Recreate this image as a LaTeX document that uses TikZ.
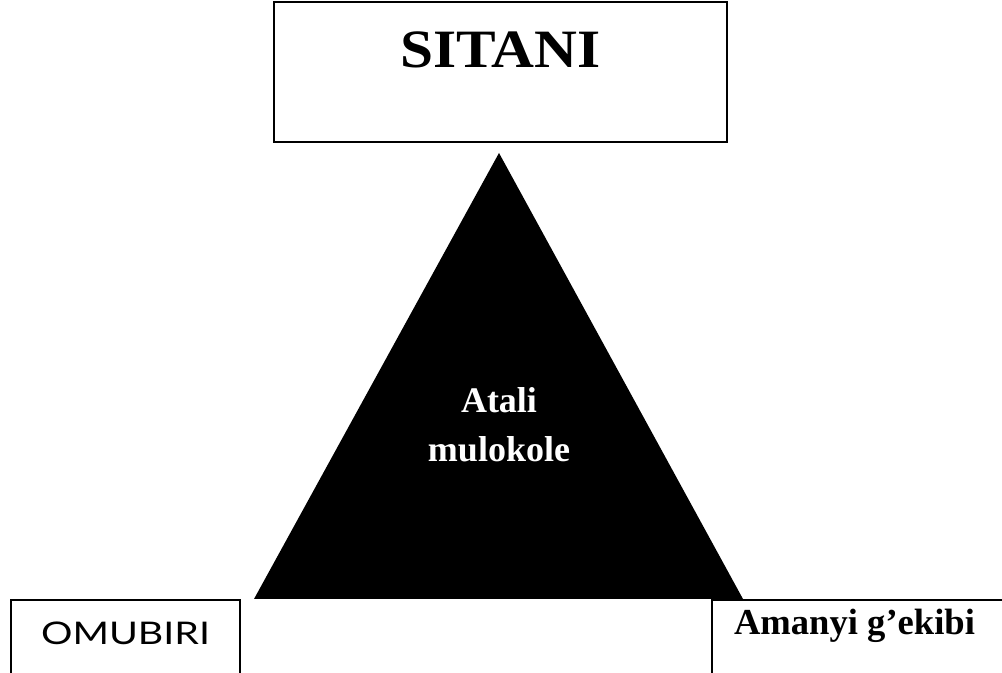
\documentclass[tikz,border=0pt]{standalone}
\usepackage{fontspec}
\setmainfont{Liberation Serif}
\newfontfamily\omufont{Lato}
\usetikzlibrary{positioning}

\begin{document}
\begin{tikzpicture}[
  x=0.5pt, y=-0.5pt,
  box/.style={rectangle, draw, line width=1pt, inner sep=0pt},
  toptext/.style={font=\fontsize{27}{30}\selectfont\bfseries},
  midtext/.style={text=white, align=center, font=\fontsize{18}{24.5}\selectfont\bfseries},
  lefttext/.style={font=\fontsize{15.6}{18}\selectfont\omufont, anchor=base},
  righttext/.style={font=\fontsize{18.3}{20}\selectfont\bfseries, anchor=base}
  ]

\useasboundingbox (0,0) rectangle (1002,673);
\clip (0,0) rectangle (1002,673);

% Boxes
\node[box, minimum width=226.5pt, minimum height=70pt] (sitanibox) at (500.5,72) {};
\node[box, minimum width=114.5pt, minimum height=60pt] (omubiribox) at (125.5,660) {};
\node[box, minimum width=154pt, minimum height=60pt] (amanyibox) at (866,660) {};

% Triangle
\coordinate (apex) at (499,153);
\coordinate (baseL) at (254,599);
\coordinate (baseR) at (743,599);
\fill (apex) -- (baseL) -- (baseR) -- cycle;

% Labels
\node[toptext] (sitani) at (500.5,50) {\scalebox{1.1}[1]{SITANI}};
\node[midtext] (atali) at (499,425) {Atali\\mulokole};
\node[lefttext] (omubiri) at (125.5,645) {\scalebox{1.26}[1]{OMUBIRI}};
\node[righttext] (amanyi) at (854.5,634) {Amanyi g’ekibi};

\end{tikzpicture}
\end{document}
